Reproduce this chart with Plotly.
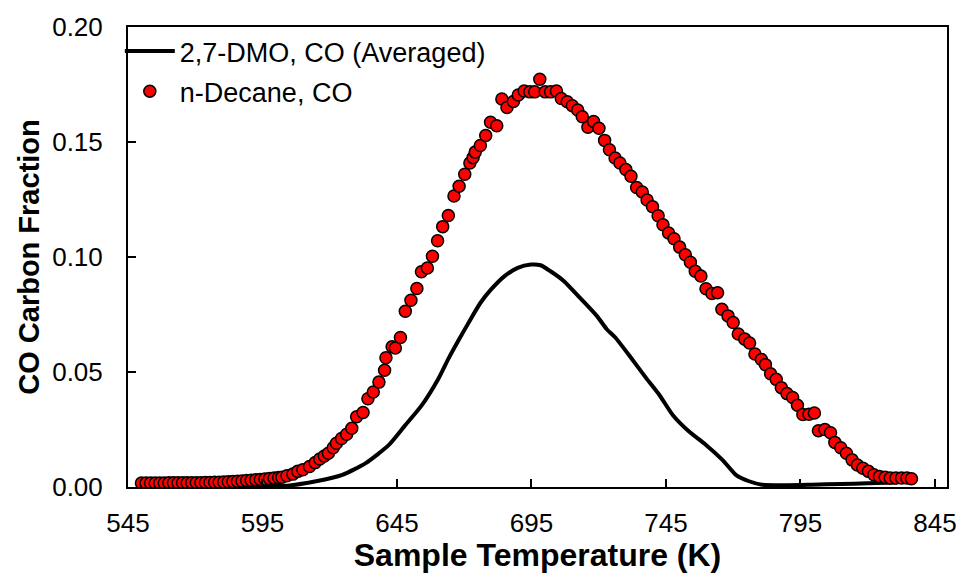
import plotly.graph_objects as go

# n-Decane, CO (scatter)
decane_T = [550.0, 551.7, 553.4, 555.1, 556.8, 558.5, 560.2, 561.9, 563.6, 565.3,
            567.0, 568.7, 570.4, 572.1, 573.8, 575.5, 577.2, 578.9, 580.6, 582.3,
            584.0, 585.7, 587.4, 589.1, 590.8, 592.5, 594.2, 595.9, 597.6, 599.3,
            601.0, 602.2, 604.1, 606.3, 608.1, 610.0, 612.5, 614.6, 616.3, 618.0,
            619.5, 621.3, 622.5, 624.4, 626.3, 628.2, 630.0, 632.4, 634.2, 636.2,
            638.3, 640.4, 640.9, 643.2, 644.4, 646.3, 648.1, 650.2, 652.4, 654.1,
            656.3, 658.2, 660.1, 662.0, 664.1, 666.2, 668.1, 670.2, 672.1, 673.3,
            674.1, 676.0, 678.0, 679.8, 682.1, 684.0, 685.9, 688.3, 690.1, 692.3,
            694.4, 696.2, 698.1, 700.1, 702.1, 704.3, 706.1, 708.3, 710.2, 712.2,
            713.9, 716.0, 718.1, 720.1, 722.2, 724.0, 726.1, 727.9, 730.1, 732.0,
            734.1, 736.2, 738.0, 740.0, 742.1, 743.9, 746.0, 748.0, 750.1, 752.2,
            754.1, 755.9, 758.0, 759.9, 762.1, 764.2, 765.8, 768.1, 770.0, 771.9,
            774.3, 776.1, 778.1, 780.5, 782.0, 783.9, 786.0, 787.9, 790.0, 792.1,
            793.9, 795.9, 798.2, 800.2, 801.7, 804.1, 806.2, 807.8, 810.0, 812.1,
            814.2, 816.2, 818.2, 820.3, 822.3, 824.4, 826.5, 828.4, 830.5, 832.6,
            834.6, 836.3]
decane_CO = [0.0017, 0.0017, 0.0017, 0.0017, 0.0017, 0.0017, 0.0018, 0.0018, 0.0018, 0.0018,
             0.0018, 0.0019, 0.0019, 0.0019, 0.0020, 0.0020, 0.0021, 0.0021, 0.0022, 0.0023,
             0.0024, 0.0025, 0.0026, 0.0028, 0.0029, 0.0031, 0.0033, 0.0035, 0.0037, 0.0039,
             0.0041, 0.0042, 0.0049, 0.0056, 0.0068, 0.0075, 0.0089, 0.0106, 0.0122, 0.0135,
             0.0147, 0.0171, 0.0190, 0.0211, 0.0229, 0.0255, 0.0305, 0.0324, 0.0384, 0.0413,
             0.0456, 0.0508, 0.0562, 0.0610, 0.0604, 0.0650, 0.0764, 0.0812, 0.0863, 0.0936,
             0.0952, 0.1003, 0.1071, 0.1132, 0.1180, 0.1265, 0.1308, 0.1360, 0.1409, 0.1432,
             0.1456, 0.1485, 0.1528, 0.1586, 0.1571, 0.1687, 0.1650, 0.1676, 0.1704, 0.1722,
             0.1718, 0.1718, 0.1773, 0.1718, 0.1718, 0.1722, 0.1689, 0.1675, 0.1658, 0.1639,
             0.1610, 0.1564, 0.1589, 0.1560, 0.1507, 0.1466, 0.1430, 0.1409, 0.1380, 0.1351,
             0.1302, 0.1283, 0.1248, 0.1219, 0.1179, 0.1140, 0.1104, 0.1079, 0.1043, 0.1010,
             0.0977, 0.0938, 0.0917, 0.0862, 0.0841, 0.0845, 0.0773, 0.0744, 0.0715, 0.0665,
             0.0643, 0.0626, 0.0578, 0.0554, 0.0532, 0.0492, 0.0468, 0.0432, 0.0406, 0.0389,
             0.0355, 0.0315, 0.0316, 0.0322, 0.0245, 0.0250, 0.0236, 0.0194, 0.0171, 0.0147,
             0.0118, 0.0096, 0.0082, 0.0068, 0.0053, 0.0046, 0.0042, 0.0039, 0.0039, 0.0039,
             0.0039, 0.0036]

# 2,7-DMO, CO (Averaged) (line)
dmo_T = [550.0, 560.0, 570.0, 580.0, 590.0, 598.0, 605.1, 614.9, 624.7, 633.4,
         642.0, 648.1, 654.2, 660.4, 664.1, 668.0, 672.0, 676.0, 680.0, 685.0,
         689.9, 694.8, 698.4, 702.1, 707.1, 713.0, 719.3, 723.0, 726.1, 732.0,
         737.8, 742.7, 747.6, 753.7, 759.9, 766.0, 771.0, 775.9, 780.8, 790.0,
         799.2, 810.0, 820.0, 831.0]
dmo_CO = [0.0005, 0.0005, 0.0005, 0.0005, 0.0005, 0.0005, 0.0007, 0.0025, 0.0053, 0.0104,
          0.0183, 0.0269, 0.0355, 0.0471, 0.0557, 0.0640, 0.0722, 0.0800, 0.0859, 0.0917,
          0.0953, 0.0967, 0.0964, 0.0938, 0.0895, 0.0823, 0.0744, 0.0686, 0.0651, 0.0562,
          0.0471, 0.0398, 0.0312, 0.0240, 0.0183, 0.0118, 0.0053, 0.0025, 0.0010, 0.0008,
          0.0010, 0.0013, 0.0016, 0.0020]

x_ticks = [545, 595, 645, 695, 745, 795, 845]
y_ticks = [0.00, 0.05, 0.10, 0.15, 0.20]
y_tick_labels = ["0.00", "0.05", "0.10", "0.15", "0.20"]

FONT = "Arial, 'Liberation Sans', sans-serif"

fig = go.Figure()
fig.add_trace(go.Scatter(
    x=dmo_T, y=dmo_CO, mode="lines", name="2,7-DMO, CO (Averaged)",
    line=dict(color="black", width=4, shape="spline", smoothing=0.6),
    legendgroup="a",
))
fig.add_trace(go.Scatter(
    x=decane_T, y=decane_CO, mode="markers", name="n-Decane, CO",
    marker=dict(color="#ff0000", size=12, line=dict(color="black", width=1.5)),
    legendgroup="b",
))

axis_common = dict(
    showline=True, linecolor="black", linewidth=2, mirror=True,
    ticks="inside", ticklen=8, tickwidth=2, tickcolor="black",
    showgrid=False, zeroline=False,
    tickfont=dict(family=FONT, size=26, color="black"),
)

fig.update_layout(
    width=969, height=573,
    margin=dict(l=128, r=16, t=26, b=84),
    paper_bgcolor="white", plot_bgcolor="white",
    font=dict(family=FONT, color="black"),
    xaxis=dict(range=[545, 849.5], tickvals=x_ticks, ticktext=[str(v) for v in x_ticks],
               ticklabelstandoff=12,
               title=dict(text="<b>Sample Temperature (K)</b>", font=dict(family=FONT, size=32), standoff=0),
               **axis_common),
    yaxis=dict(range=[0, 0.2], tickvals=y_ticks, ticktext=y_tick_labels,
               ticklabelstandoff=18,
               title=dict(text="<b>CO Carbon Fraction</b>", font=dict(family=FONT, size=29), standoff=4),
               **axis_common),
    legend=dict(x=-0.01, y=1.0, xanchor="left", yanchor="top", bgcolor="rgba(0,0,0,0)",
                font=dict(family=FONT, size=27, color="black"), itemwidth=50,
                traceorder="grouped", tracegroupgap=2),
    showlegend=True,
)

fig.write_html("out.html")
